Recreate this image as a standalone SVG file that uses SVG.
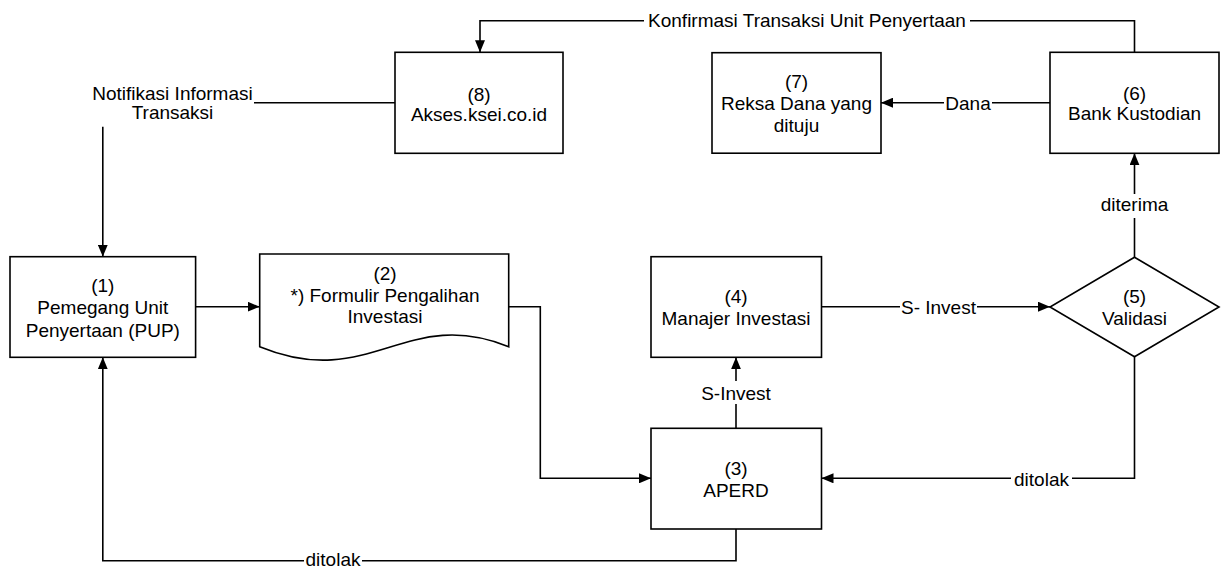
<svg xmlns="http://www.w3.org/2000/svg" width="1224" height="569" viewBox="0 0 1224 569">
<style>
.n{fill:#fff;stroke:#000;stroke-width:1.6}
.c{fill:none;stroke:#000;stroke-width:1.6}
text{font-family:"Liberation Sans",Arial,sans-serif;font-size:19px;fill:#000;text-anchor:middle}
</style>
<defs>
<marker id="a" markerWidth="12" markerHeight="10" refX="12" refY="5" orient="auto" markerUnits="userSpaceOnUse">
<path d="M0,0 L12,5 L0,10 Z" fill="#000"/>
</marker>
</defs>
<rect width="1224" height="569" fill="#fff"/>
<g id="connectors">
<path class="c" d="M1134.5,52.3 V20.7 H970"/>
<path class="c" d="M644,20.7 H480 V52.3" marker-end="url(#a)"/>
<text x="807" y="27">Konfirmasi Transaksi Unit Penyertaan</text>
<path class="c" d="M1050,102.7 H992"/>
<path class="c" d="M944,102.7 H881" marker-end="url(#a)"/>
<text x="968" y="109.5">Dana</text>
<path class="c" d="M395,102.7 H254"/>
<path class="c" d="M102.8,126.7 V256.7" marker-end="url(#a)"/>
<text x="172.5" y="99.5">Notifikasi Informasi</text>
<text x="172.5" y="118.5">Transaksi</text>
<path class="c" d="M195.6,306.7 H259.7" marker-end="url(#a)"/>
<path class="c" d="M508.7,306.7 H540.3 V478.3 H651" marker-end="url(#a)"/>
<path class="c" d="M736,428.3 V404"/>
<path class="c" d="M736,381 V357.3" marker-end="url(#a)"/>
<text x="736" y="400">S-Invest</text>
<path class="c" d="M821.5,306.7 H900"/>
<path class="c" d="M977,306.7 H1050" marker-end="url(#a)"/>
<text x="938.5" y="314">S- Invest</text>
<path class="c" d="M1134.5,257.3 V218"/>
<path class="c" d="M1134.5,194 V153.3" marker-end="url(#a)"/>
<text x="1134.5" y="211">diterima</text>
<path class="c" d="M1134.5,356.7 V478.3 H1072"/>
<path class="c" d="M1011,478.3 H821.5" marker-end="url(#a)"/>
<text x="1041.5" y="486">ditolak</text>
<path class="c" d="M736,529 V560.7 H362"/>
<path class="c" d="M304,560.7 H102.8 V357.3" marker-end="url(#a)"/>
<text x="333" y="566">ditolak</text>
</g>
<g id="n8">
<rect class="n" x="395" y="52.3" width="168" height="101"/>
<text x="479" y="100.5">(8)</text>
<text x="479" y="121">Akses.ksei.co.id</text>
</g>
<g id="n7">
<rect class="n" x="712" y="52.7" width="169" height="100.5"/>
<text x="796.5" y="88">(7)</text>
<text x="796.5" y="110">Reksa Dana yang</text>
<text x="796.5" y="132">dituju</text>
</g>
<g id="n6">
<rect class="n" x="1050" y="52.3" width="169" height="101"/>
<text x="1134.5" y="99.5">(6)</text>
<text x="1134.5" y="120">Bank Kustodian</text>
</g>
<g id="n1">
<rect class="n" x="10" y="256.7" width="185.6" height="100.6"/>
<text x="102.8" y="292">(1)</text>
<text x="102.8" y="314">Pemegang Unit</text>
<text x="102.8" y="336.5">Penyertaan (PUP)</text>
</g>
<g id="n2">
<path class="n" d="M259.7,254 H508.7 V346.7 C405,305 370,392 259.7,346.7 Z"/>
<text x="385" y="279.5">(2)</text>
<text x="385" y="301.5">*) Formulir Pengalihan</text>
<text x="385" y="322.7">Investasi</text>
</g>
<g id="n4">
<rect class="n" x="651" y="256.7" width="170.5" height="100.6"/>
<text x="736" y="303">(4)</text>
<text x="736" y="325">Manajer Investasi</text>
</g>
<g id="n3">
<rect class="n" x="651" y="428.3" width="170.5" height="100.7"/>
<text x="736" y="475">(3)</text>
<text x="736" y="496.7">APERD</text>
</g>
<g id="n5">
<path class="n" d="M1134.5,257.3 L1219,307 L1134.5,356.7 L1050,307 Z"/>
<text x="1134.5" y="303">(5)</text>
<text x="1134.5" y="325">Validasi</text>
</g>
</svg>
